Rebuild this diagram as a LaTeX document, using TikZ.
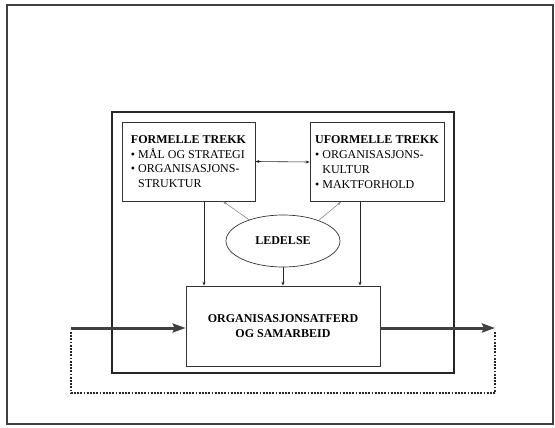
\documentclass[tikz,border=0pt]{standalone}
\usepackage{fontspec}
\setmainfont{Liberation Serif}
\usetikzlibrary{arrows.meta,shapes.geometric,calc}
\begin{document}
\begin{tikzpicture}[x=1pt,y=-1pt,
  every node/.style={font=\fontsize{12}{14.8}\selectfont, inner sep=0pt},
  trekkbox/.style={draw=black!80, line width=0.7pt, rectangle, align=left, minimum width=133pt, minimum height=79pt},
  mainbox/.style={draw=black!80, line width=0.7pt, rectangle, align=center, font=\fontsize{12}{15}\selectfont\bfseries, minimum width=194pt, minimum height=80pt},
  ledbox/.style={draw=black!80, line width=0.7pt, ellipse, minimum width=114pt, minimum height=52pt, font=\fontsize{12}{14}\selectfont\bfseries},
  thin arrow/.style={line width=0.6pt, draw=black!85, -{Stealth[length=4pt,width=3pt]}},
  gray arrow/.style={line width=0.6pt, draw=black!45, -{Stealth[length=4pt,width=3pt]}},
  thick arrow/.style={line width=3pt, draw=black!75, -{Stealth[length=13pt,width=9pt,inset=2pt]}},
  frame/.style={draw=black!85, line width=1.4pt},
  loopline/.style={draw=black!85, line width=2.4pt, dash pattern=on 1.8pt off 1.4pt}
]
\useasboundingbox (0,0) rectangle (555,428);
\fill[white] (0,0) rectangle (555,428);
% outer frame
\draw[draw=black!75, line width=1.1pt] (7,5) rectangle (553,424);
% inner frame
\draw[frame] (112,112) rectangle (454,373);

\node[trekkbox] (f) at (188.5,161.5) {\textbf{FORMELLE TREKK}\\• MÅL OG STRATEGI\\• ORGANISASJONS-\\\phantom{• }STRUKTUR};
\node[trekkbox, minimum width=134pt] (u) at (377,162) {\textbf{UFORMELLE TREKK}\\• ORGANISASJONS-\\\phantom{• }KULTUR\\• MAKTFORHOLD};
\node[ledbox] (l) at (283,241) {LEDELSE};
\node[mainbox] (m) at (283,326) {ORGANISASJONSATFERD\\OG SAMARBEID};

% double arrow between boxes
\draw[line width=0.6pt, draw=black!85, {Stealth[length=4pt,width=3pt]}-{Stealth[length=4pt,width=3pt]}] (f.east) -- (u.west);

% ledelse to boxes
\coordinate (fa) at (223,0);
\coordinate (ua) at (341,0);
\draw[gray arrow] (l.148) -- (f.south -| fa);
\draw[gray arrow] (l.30) -- (u.south -| ua);

% vertical arrows to main box
\coordinate (fx) at (204,0);
\coordinate (ux) at (360,0);
\draw[thin arrow] (f.south -| fx) -- (m.north -| fx);
\draw[thin arrow] (u.south -| ux) -- (m.north -| ux);
\draw[thin arrow] (l.south) -- (m.north -| l.south);

% thick in/out arrows
\coordinate (in) at (71,328);
\coordinate (out) at (495,328);
\draw[thick arrow] (in) -- (in -| m.west);
\draw[thick arrow] (out -| m.east) -- (out);

% dotted feedback loop
\coordinate (lb) at (71,393);
\coordinate (rb) at (495,393);
\draw[loopline] (71,332) -- (lb) -- (rb) -- (495,332);
\end{tikzpicture}
\end{document}
